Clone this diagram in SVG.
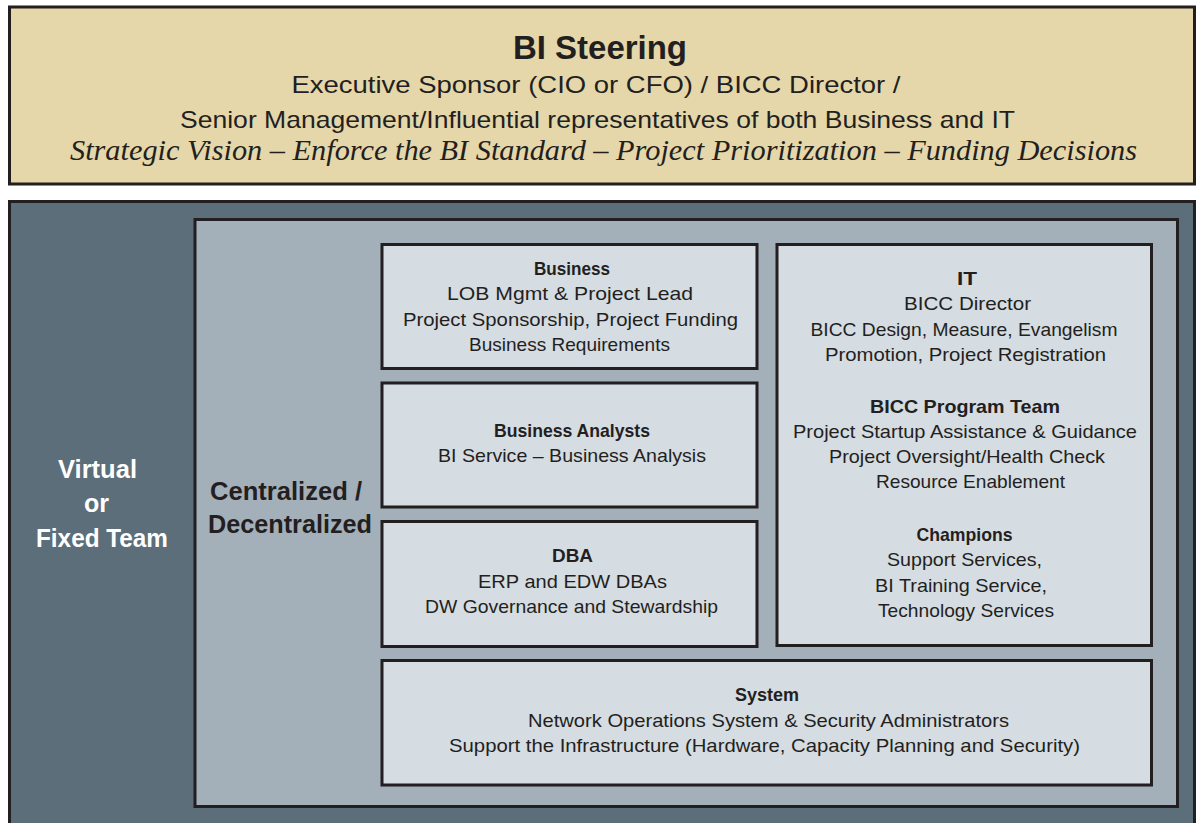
<svg xmlns="http://www.w3.org/2000/svg" width="1196" height="823" viewBox="0 0 1196 823">
<style>
.frame{stroke:#231f20;stroke-width:3}
.box{fill:#d5dce2;stroke:#231f20;stroke-width:3}
text{font-family:"Liberation Sans",Arial,sans-serif;fill:#231f20;text-anchor:middle}
.t{font-size:19px}
.h{font-size:19px;font-weight:bold}
.top{font-size:24px}
.it{font-family:"Liberation Serif","Times New Roman",serif;font-style:italic;font-size:30px}
.side{font-size:25px;font-weight:bold}
</style>
<rect width="1196" height="823" fill="#ffffff"/>
<g id="bi-steering">
<rect class="frame" x="9.5" y="7" width="1185" height="177" fill="#e5d7aa"/>
<text x="600" y="59" style="font-size:33px;font-weight:bold" textLength="174" lengthAdjust="spacingAndGlyphs">BI Steering</text>
<text class="top" x="596" y="93" textLength="609" lengthAdjust="spacingAndGlyphs">Executive Sponsor (CIO or CFO) / BICC Director /</text>
<text class="top" x="597.5" y="127.5" textLength="835" lengthAdjust="spacingAndGlyphs">Senior Management/Influential representatives of both Business and IT</text>
<text class="it" x="603.5" y="160" textLength="1067" lengthAdjust="spacingAndGlyphs">Strategic Vision – Enforce the BI Standard – Project Prioritization – Funding Decisions</text>
</g>
<g id="team-panel">
<rect class="frame" x="9.5" y="201.5" width="1185" height="640" fill="#5b6e79"/>
<text class="side" x="97.5" y="478" style="fill:#ffffff" textLength="79" lengthAdjust="spacingAndGlyphs">Virtual</text>
<text class="side" x="96.5" y="512" style="fill:#ffffff">or</text>
<text class="side" x="102" y="547" style="fill:#ffffff" textLength="132" lengthAdjust="spacingAndGlyphs">Fixed Team</text>
</g>
<g id="centralized-panel">
<rect class="frame" x="195" y="219.5" width="982.5" height="587" fill="#a3afb9"/>
<text class="side" x="210" y="500" style="text-anchor:start" textLength="152" lengthAdjust="spacingAndGlyphs">Centralized /</text>
<text class="side" x="208" y="533" style="text-anchor:start" textLength="164" lengthAdjust="spacingAndGlyphs">Decentralized</text>
</g>
<g id="business">
<rect class="box" x="382" y="244.5" width="375" height="124"/>
<text class="h" x="572" y="275" textLength="76" lengthAdjust="spacingAndGlyphs">Business</text>
<text class="t" x="570" y="300" textLength="246" lengthAdjust="spacingAndGlyphs">LOB Mgmt &amp; Project Lead</text>
<text class="t" x="570.5" y="326" textLength="335" lengthAdjust="spacingAndGlyphs">Project Sponsorship, Project Funding</text>
<text class="t" x="569.5" y="351" textLength="201" lengthAdjust="spacingAndGlyphs">Business Requirements</text>
</g>
<g id="business-analysts">
<rect class="box" x="382" y="383" width="375" height="124"/>
<text class="h" x="572" y="437" textLength="156" lengthAdjust="spacingAndGlyphs">Business Analysts</text>
<text class="t" x="572" y="462" textLength="268" lengthAdjust="spacingAndGlyphs">BI Service – Business Analysis</text>
</g>
<g id="dba">
<rect class="box" x="382" y="521.5" width="375" height="125"/>
<text class="h" x="572.5" y="562" textLength="41" lengthAdjust="spacingAndGlyphs">DBA</text>
<text class="t" x="572.5" y="588" textLength="189" lengthAdjust="spacingAndGlyphs">ERP and EDW DBAs</text>
<text class="t" x="571.5" y="613" textLength="293" lengthAdjust="spacingAndGlyphs">DW Governance and Stewardship</text>
</g>
<g id="it">
<rect class="box" x="777" y="244.5" width="374.5" height="401"/>
<text class="h" x="967" y="285" textLength="20" lengthAdjust="spacingAndGlyphs">IT</text>
<text class="t" x="967.5" y="310" textLength="127" lengthAdjust="spacingAndGlyphs">BICC Director</text>
<text class="t" x="964" y="336" textLength="307" lengthAdjust="spacingAndGlyphs">BICC Design, Measure, Evangelism</text>
<text class="t" x="965.5" y="361" textLength="281" lengthAdjust="spacingAndGlyphs">Promotion, Project Registration</text>
<text class="h" x="965" y="413" textLength="190" lengthAdjust="spacingAndGlyphs">BICC Program Team</text>
<text class="t" x="965" y="438" textLength="344" lengthAdjust="spacingAndGlyphs">Project Startup Assistance &amp; Guidance</text>
<text class="t" x="967" y="463" textLength="276" lengthAdjust="spacingAndGlyphs">Project Oversight/Health Check</text>
<text class="t" x="970.5" y="488" textLength="189" lengthAdjust="spacingAndGlyphs">Resource Enablement</text>
<text class="h" x="964.5" y="541" textLength="96" lengthAdjust="spacingAndGlyphs">Champions</text>
<text class="t" x="964.5" y="566" textLength="155" lengthAdjust="spacingAndGlyphs">Support Services,</text>
<text class="t" x="961" y="592" textLength="172" lengthAdjust="spacingAndGlyphs">BI Training Service,</text>
<text class="t" x="966" y="617" textLength="176" lengthAdjust="spacingAndGlyphs">Technology Services</text>
</g>
<g id="system">
<rect class="box" x="382" y="660.5" width="769.5" height="124.5"/>
<text class="h" x="767" y="701" textLength="64" lengthAdjust="spacingAndGlyphs">System</text>
<text class="t" x="768.5" y="727" textLength="481" lengthAdjust="spacingAndGlyphs">Network Operations System &amp; Security Administrators</text>
<text class="t" x="764.5" y="752" textLength="631" lengthAdjust="spacingAndGlyphs">Support the Infrastructure (Hardware, Capacity Planning and Security)</text>
</g>
<g id="connectors"></g>
</svg>
